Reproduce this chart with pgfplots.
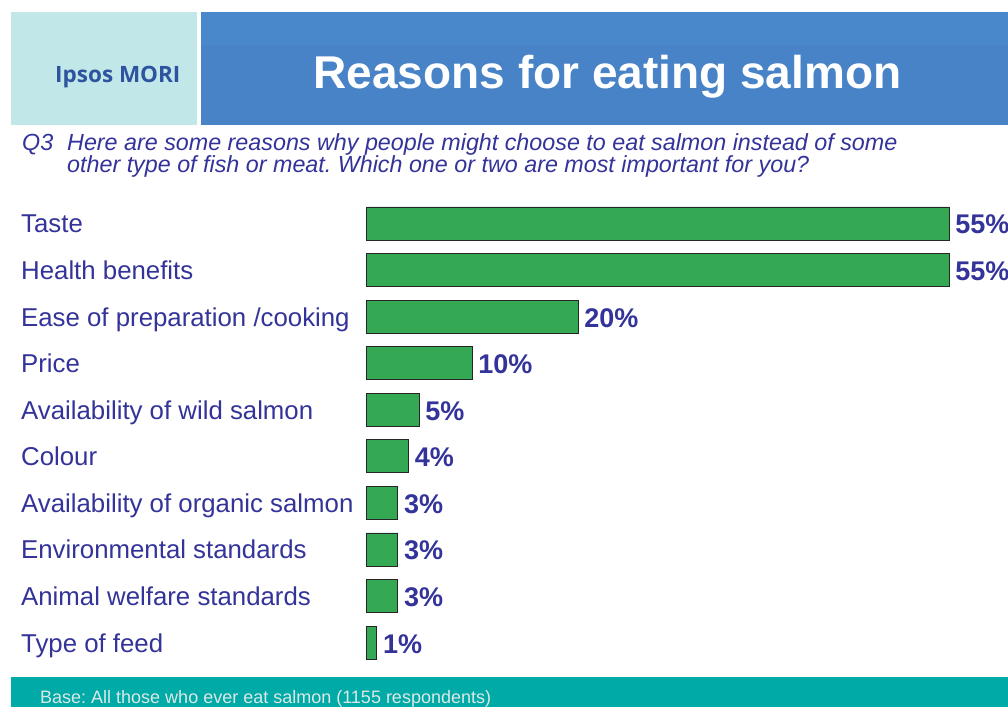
\documentclass[border=0pt]{standalone}
\usepackage{fontspec}
\setmainfont{Liberation Sans}
\newfontfamily\logofont{Open Sans}
\usepackage{pgfplots}
\pgfplotsset{compat=1.18}
\frenchspacing
\definecolor{barg}{RGB}{52,168,83}
\definecolor{txtb}{RGB}{51,51,153}
\definecolor{hdrblue}{RGB}{74,136,204}
\definecolor{hdrblue2}{RGB}{71,131,198}
\definecolor{hdrcyan}{RGB}{194,231,232}
\definecolor{logoblue}{RGB}{46,84,160}
\definecolor{teal}{RGB}{0,170,166}
\definecolor{foottxt}{RGB}{222,232,232}
\begin{document}
\begin{tikzpicture}
\clip (0pt,0pt) rectangle (1008pt,-707pt);
\fill[white] (0pt,0pt) rectangle (1008pt,-707pt);
% header
\fill[hdrcyan] (11pt,-12pt) rectangle (197pt,-125pt);
\fill[hdrblue] (201pt,-12pt) rectangle (1008pt,-45pt);
\fill[hdrblue2] (201pt,-45pt) rectangle (1008pt,-125pt);
\node[anchor=base, inner sep=0, text=white, font=\fontsize{46}{50}\selectfont\bfseries] at (607.5pt,-88pt) {Reasons for eating salmon};
\node[anchor=base west, inner sep=0, text=logoblue, font=\logofont\fontsize{22.5}{25}\selectfont\bfseries] at (55pt,-82pt) {Ipsos MORI};
% question
\node[anchor=base west, inner sep=0, text=txtb, font=\fontsize{23.3}{25}\selectfont\itshape] at (22pt,-150.5pt) {Q3};
\node[anchor=base west, inner sep=0, text=txtb, font=\fontsize{23.3}{25}\selectfont\itshape] at (67pt,-150.5pt) {Here are some reasons why people might choose to eat salmon instead of some};
\node[anchor=base west, inner sep=0, text=txtb, font=\fontsize{23.3}{25}\selectfont\itshape] at (67pt,-172pt) {other type of fish or meat. Which one or two are most important for you?};
% footer
\fill[teal] (11pt,-677pt) rectangle (1008pt,-707pt);
\node[anchor=base west, inner sep=0, text=foottxt, font=\fontsize{18}{20}\selectfont] at (40pt,-703pt) {Base: All those who ever eat salmon (1155 respondents)};
\begin{axis}[
  at={(366pt,-665.8pt)}, anchor=south west,
  scale only axis, width=583pt, height=465.6pt,
  xbar, bar width=33pt,
  xmin=0, xmax=55,
  ymin=-0.5, ymax=9.5, y dir=reverse,
  axis line style={draw=none},
  xtick=\empty,
  ytick={0,...,9},
  yticklabels={Taste,Health benefits,Ease of preparation /cooking,Price,Availability of wild salmon,Colour,Availability of organic salmon,Environmental standards,Animal welfare standards,Type of feed},
  major tick length=0pt,
  yticklabel style={anchor=base west, xshift=-345pt, yshift=-9.5pt, inner sep=0pt, text=txtb, font=\fontsize{25.8}{28}\selectfont},
  clip=false,
  /pgf/number format/assume math mode=true,
  nodes near coords={\pgfmathprintnumber{\pgfplotspointmeta}\%},
  nodes near coords style={anchor=base west, xshift=6pt, yshift=-10.5pt, inner sep=0pt, text=txtb, font=\fontsize{27}{30}\selectfont\bfseries},
  point meta=x,
]
\addplot[fill=barg, draw=black!85, line width=0.8pt] coordinates {
(55,0) (55,1) (20,2) (10,3) (5,4) (4,5) (3,6) (3,7) (3,8) (1,9)
};
\end{axis}
\end{tikzpicture}
\end{document}
